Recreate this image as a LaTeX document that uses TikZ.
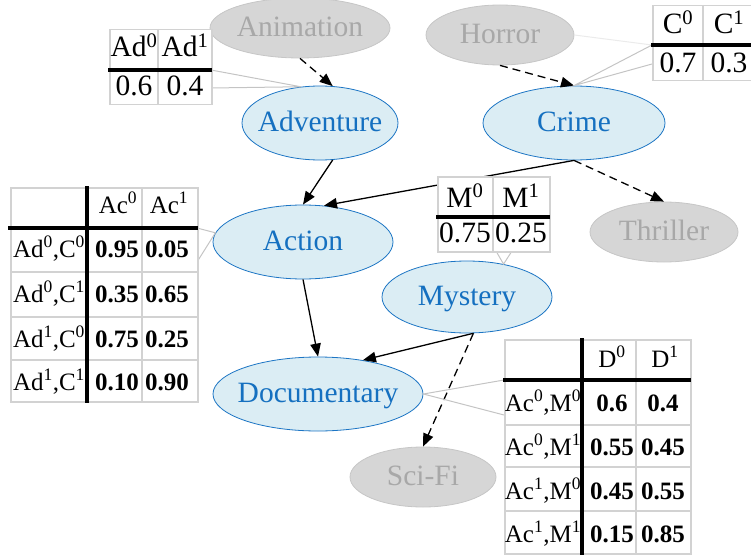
\documentclass[tikz,border=0pt]{standalone}
\usepackage{fontspec}
\setmainfont{Liberation Serif}
\usetikzlibrary{shapes.geometric,arrows.meta}

\definecolor{nodefill}{HTML}{DBEDF4}
\definecolor{nodeline}{HTML}{1C75C4}
\definecolor{nodetext}{HTML}{1570C0}
\definecolor{ghostfill}{HTML}{D6D6D6}
\definecolor{ghostline}{HTML}{C6C6C6}
\definecolor{ghosttext}{HTML}{A8A8A8}
\definecolor{gridgray}{HTML}{D2D2D2}
\definecolor{calloutgray}{HTML}{C4C4C4}
\definecolor{faintgray}{HTML}{EBEBEB}

\newcommand\genrefont{\fontsize{29.5}{31}\selectfont}
\newcommand\smalltabfont{\fontsize{29.5}{31}\selectfont}
\newcommand\bigtabfont{\fontsize{25}{27}\selectfont}
\newcommand\up[1]{\textsuperscript{#1}}

\begin{document}
\begin{tikzpicture}[x=1pt,y=-1pt,
  oval/.style={ellipse, inner sep=0pt, line width=0.8pt, font=\genrefont,
    text height=21pt, text depth=4pt,
    execute at begin node={\hbox to 0pt\bgroup\hss},
    execute at end node={\hss\egroup}},
  genre/.style={oval, draw=nodeline, fill=nodefill, text=nodetext},
  latent/.style={oval, draw=ghostline, fill=ghostfill, text=ghosttext},
  link/.style={line width=1.3pt, -{Triangle[length=13pt,width=10.5pt]}},
  hidden link/.style={link, dash pattern=on 8pt off 5pt},
  callout/.style={draw=calloutgray, line width=1pt},
  frame/.style={rectangle, draw=gridgray, fill=white, line width=1.5pt,
    inner sep=0pt, anchor=north west},
  grid line/.style={draw=gridgray, line width=1.5pt},
  rule line/.style={draw=black, line width=3.5pt},
  tabcell/.style={anchor=base, inner sep=0pt},
  smallcell/.style={tabcell, font=\smalltabfont},
  bigcell/.style={tabcell, font=\bigtabfont},
  bignum/.style={tabcell, font=\bigtabfont\bfseries}]

\useasboundingbox (0,0) rectangle (751,556);

% genre nodes
\node[latent, minimum width=180, minimum height=60] (anim)     at (300,28)  {Animation};
\node[latent, minimum width=148, minimum height=60] (horror)   at (500,35)  {Horror};
\node[genre,  minimum width=156, minimum height=74] (adv)      at (320,123) {Adventure};
\node[genre,  minimum width=182, minimum height=74] (crime)    at (574,123) {Crime};
\node[genre,  minimum width=180, minimum height=74] (action)   at (303,242) {Action};
\node[latent, minimum width=148, minimum height=60] (thriller) at (664,232) {Thriller};
\node[genre,  minimum width=170, minimum height=72] (mystery)  at (467,297) {Mystery};
\node[genre,  minimum width=210, minimum height=74] (doc)      at (318,394) {Documentary};
\node[latent, minimum width=146, minimum height=60] (scifi)    at (423,477) {Sci-Fi};

% dependencies
\draw[hidden link] (anim.south) -- (adv.71);
\draw[hidden link] (horror.south) -- (crime.north);
\draw[link] (adv.-71) -- (action.north);
\draw[link] (crime.south) -- (action.60);
\draw[hidden link] (crime.south) -- (thriller.north);
\draw[link] (action.south) -- (doc.north);
\draw[link] (mystery.-80) -- (doc.37);
\draw[hidden link] (mystery.-80) -- (scifi.north);

% table corners used by the callouts
\coordinate (advtab-a) at (211,70);
\coordinate (advtab-b) at (211,88);
\coordinate (crimetab-a) at (652,45);
\coordinate (crimetab-b) at (652,64);
\coordinate (acttab-a) at (197,228);
\coordinate (acttab-b) at (197,262);
\coordinate (mystab-a) at (496,251);
\coordinate (mystab-b) at (512,251);
\coordinate (doctab-a) at (504,380);
\coordinate (doctab-b) at (504,415);

% callouts
\draw[callout] (advtab-a) -- (adv.118) -- (advtab-b);
\draw[draw=faintgray, line width=1pt] (horror.east) -- (crimetab-a);
\draw[callout] (crimetab-a) -- (crime.north) -- (crimetab-b);
\draw[callout] (acttab-a) -- (action.174) -- (acttab-b);
\draw[callout] (mystab-a) -- (mystery.42) -- (mystab-b);
\draw[callout] (doctab-a) -- (doc.east) -- (doctab-b);

% Adventure table
\node[frame, minimum width=102, minimum height=75] (advtab) at (109,29) {};
\draw[grid line] (158,29) -- (158,104);
\draw[rule line] (108,70) -- (212,70);
\node[smallcell] (advtab-h0) at (134,57) {Ad\up0};
\node[smallcell] (advtab-h1) at (185,57) {Ad\up1};
\node[smallcell] (advtab-v0) at (134,96) {0.6};
\node[smallcell] (advtab-v1) at (185,96) {0.4};

% Crime table
\node[frame, minimum width=102, minimum height=75] (crimetab) at (652,5) {};
\draw[grid line] (703,5) -- (703,80);
\draw[rule line] (651,45) -- (755,45);
\node[smallcell] (crimetab-h0) at (678,34) {C\up0};
\node[smallcell] (crimetab-h1) at (729,34) {C\up1};
\node[smallcell] (crimetab-v0) at (678,73) {0.7};
\node[smallcell] (crimetab-v1) at (729,73) {0.3};

% Mystery table
\node[frame, minimum width=112, minimum height=75] (mystab) at (437,176) {};
\draw[grid line] (493,176) -- (493,251);
\draw[rule line] (436,217) -- (550,217);
\node[smallcell] (mystab-h0) at (465,207) {M\up0};
\node[smallcell] (mystab-h1) at (521,207) {M\up1};
\node[smallcell] (mystab-v0) at (465,242) {0.75};
\node[smallcell] (mystab-v1) at (521,242) {0.25};

% Action table
\node[frame, minimum width=187, minimum height=214] (acttab) at (10,187) {};
\draw[grid line] (142,187) -- (142,401);
\foreach \yy in {272,317,360} \draw[grid line] (10,\yy) -- (197,\yy);
\draw[rule line] (8,228) -- (198,228);
\draw[rule line] (87,186) -- (87,403);
\node[bigcell] (acttab-h0) at (118,213) {Ac\up0};
\node[bigcell] (acttab-h1) at (169,213) {Ac\up1};
\foreach \yy/\lab/\p/\q [count=\r] in
  {257/{Ad\up0,C\up0}/0.95/0.05, 302/{Ad\up0,C\up1}/0.35/0.65,
   347/{Ad\up1,C\up0}/0.75/0.25, 390/{Ad\up1,C\up1}/0.10/0.90} {
  \node[bigcell] (acttab-l\r) at (49,\yy) {\lab};
  \node[bignum] (acttab-p\r) at (117,\yy) {\p};
  \node[bignum] (acttab-q\r) at (167,\yy) {\q};
}

% Documentary table
\node[frame, minimum width=186, minimum height=214] (doctab) at (504,339) {};
\draw[grid line] (636,339) -- (636,553);
\foreach \yy in {425,467,511} \draw[grid line] (504,\yy) -- (690,\yy);
\draw[rule line] (503,380) -- (691,380);
\draw[rule line] (582,338) -- (582,555);
\node[bigcell] (doctab-h0) at (612,367) {D\up0};
\node[bigcell] (doctab-h1) at (665,367) {D\up1};
\foreach \yy/\lab/\p/\q [count=\r] in
  {411/{Ac\up0,M\up0}/0.6/0.4, 455/{Ac\up0,M\up1}/0.55/0.45,
   499/{Ac\up1,M\up0}/0.45/0.55, 542/{Ac\up1,M\up1}/0.15/0.85} {
  \node[bigcell] (doctab-l\r) at (543,\yy) {\lab};
  \node[bignum] (doctab-p\r) at (612,\yy) {\p};
  \node[bignum] (doctab-q\r) at (663,\yy) {\q};
}
\end{tikzpicture}
\end{document}
